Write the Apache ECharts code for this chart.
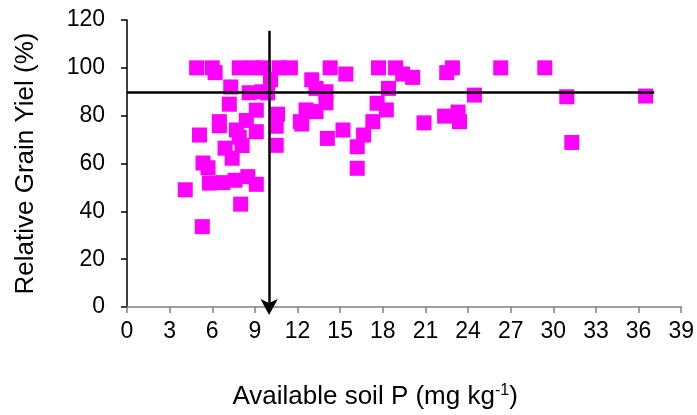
<!DOCTYPE html>
<html>
<head>
<meta charset="utf-8">
<script src="https://cdn.jsdelivr.net/npm/echarts@6/dist/echarts.min.js"></script>
<style>
  html, body { margin: 0; padding: 0; background: #fff; }
  #chart { width: 697px; height: 415px; }
</style>
</head>
<body>
<div id="chart"></div>
<script>
var chart = echarts.init(document.getElementById('chart'));

// soil P (mg/kg) and relative grain yield (%)
var soilP = [4.9, 6.0, 7.9, 8.8, 9.6, 10.7, 11.5, 14.3, 17.7, 18.9, 22.9, 26.3, 29.4,
    6.2, 15.4, 19.4, 20.1, 22.5, 10.1, 13.0,
    7.3, 8.6, 9.5, 9.9, 13.3, 14.0, 18.4, 24.45, 30.95, 36.5,
    7.2, 14.0, 17.6, 9.1, 10.6, 12.6, 13.3, 18.25, 22.35, 23.3,
    12.2, 6.5, 8.4, 9.1, 10.5, 5.1, 7.7, 7.9, 12.3, 15.2, 14.1, 17.3, 16.65, 20.9, 23.4, 6.5,
    6.9, 8.1, 10.5, 7.4, 5.35, 5.7, 16.2, 31.3,
    4.1, 5.8, 6.75, 7.6, 8.5, 9.1, 8.0, 5.3, 16.2];
var yieldPct = [100, 100, 100, 100, 100, 100, 100, 100, 100, 100, 100, 100, 100,
    98, 97.4, 97.4, 96, 98, 95, 95,
    92, 89.6, 90, 89.5, 91.4, 90, 91.4, 88.6, 87.9, 88.2,
    84.8, 85.4, 85.2, 82.3, 80.6, 82.4, 81.7, 82.4, 79.8, 81.5,
    77.5, 75.8, 78, 73.3, 75.6, 71.9, 74, 71, 76.5, 74, 70.5, 77.5, 71.9, 77, 77.5, 77.5,
    66.4, 67.5, 67.6, 62.2, 60.2, 58.2, 67, 68.8,
    49, 51.8, 52, 53, 54.5, 51.3, 43, 33.6, 58];

var xTicks = [0, 39, 3];   // min, max, step
var yTicks = [0, 120, 20];
var criticalP = 10;        // vertical arrow
var criticalYield = 90;    // horizontal line
var hLineEnd = 37.1;
var vLineTop = 115.5;

var points = soilP.map(function (p, i) { return [p, yieldPct[i]]; });

var option = {
    animation: false,
    grid: { left: 127, right: 15, top: 20, bottom: 108 },
    xAxis: {
        type: 'value',
        min: xTicks[0], max: xTicks[1], interval: xTicks[2],
        name: 'Available soil P (mg kg{sup|-1})',
        nameLocation: 'middle',
        nameGap: 76,
        nameTextStyle: {
            fontFamily: 'Liberation Sans', fontSize: 26, color: '#000',
            padding: [0, 58, 0, 0],
            rich: { sup: { fontFamily: 'Liberation Sans', fontSize: 16, color: '#000', verticalAlign: 'top', padding: [0, 0, 12, 0] } }
        },
        axisLine: { lineStyle: { color: '#808080', width: 1.5 } },
        axisTick: { length: 6, lineStyle: { color: '#808080', width: 1.5 } },
        axisLabel: { fontFamily: 'Liberation Sans', fontSize: 23, color: '#000', margin: 13 },
        splitLine: { show: false }
    },
    yAxis: {
        type: 'value',
        min: yTicks[0], max: yTicks[1], interval: yTicks[2],
        name: 'Relative Grain Yiel (%)',
        nameLocation: 'middle',
        nameGap: 88,
        nameTextStyle: { fontFamily: 'Liberation Sans', fontSize: 26, color: '#000' },
        axisLine: { show: true, lineStyle: { color: '#000', width: 1.5 } },
        axisTick: { show: true, length: 6, lineStyle: { color: '#000', width: 1.5 } },
        axisLabel: { fontFamily: 'Liberation Sans', fontSize: 23, color: '#000', margin: 22 },
        splitLine: { show: false }
    },
    series: [{
        type: 'scatter',
        symbol: 'rect',
        symbolSize: 15,
        itemStyle: { color: '#ff00ff', opacity: 1 },
        data: points,
        markLine: {
            silent: true,
            animation: false,
            label: { show: false },
            lineStyle: { color: '#000', width: 2.5, type: 'solid' },
            data: [
                [{ coord: [xTicks[0], criticalYield], symbol: 'none' },
                 { coord: [hLineEnd, criticalYield], symbol: 'none' }],
                [{ coord: [criticalP, vLineTop], symbol: 'none' },
                 { coord: [criticalP, yTicks[0]], symbol: 'arrow', symbolSize: [13, 16], symbolOffset: [0, -8] }]
            ]
        }
    }]
};
chart.setOption(option);
</script>
</body>
</html>
